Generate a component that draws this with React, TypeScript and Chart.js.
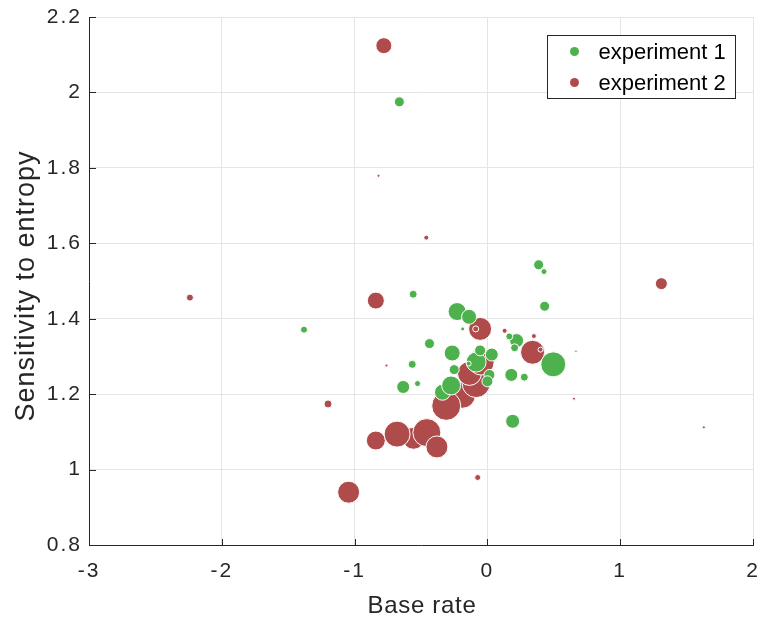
import React, { useEffect, useRef } from "react";
import { Chart, registerables } from "chart.js";

Chart.register(...registerables);

const seriesNames = ["experiment 1", "experiment 2"];
const seriesColors = ["#4db24d", "#b04b4b"];
const xTitle = "Base rate";
const yTitle = "Sensitivity to entropy";

const exp1X = [-0.663, 0.386, 0.426, 0.431, -0.559, -1.381, -0.228, -0.138, -0.186, -0.436, -0.265, -0.566, -0.634, -0.526, -0.25, -0.338, -0.273, -0.085, -0.141, -0.055, 0.033, 0.015, 0.0, 0.18, 0.278, 0.19, 0.496, 0.22, 0.165, 0.205];
const exp1Y = [1.975, 1.543, 1.525, 1.433, 1.465, 1.371, 1.419, 1.405, 1.373, 1.334, 1.309, 1.279, 1.219, 1.228, 1.265, 1.205, 1.223, 1.285, 1.281, 1.316, 1.305, 1.251, 1.234, 1.251, 1.245, 1.128, 1.279, 1.342, 1.353, 1.323];
const exp1R = [5, 5, 3, 5, 4, 3.5, 9, 7.5, 2, 5, 8, 4, 6.5, 3, 5, 8, 9.5, 10, 2.5, 5.5, 6.5, 5.5, 5.5, 6.5, 4, 7, 12.5, 7, 3.5, 4];

const exp2X = [-0.78, -0.82, -0.46, -2.24, 1.31, -0.84, -1.2, -0.76, -1.045, -0.84, -0.556, -0.68, -0.456, -0.38, -0.188, -0.31, -0.085, -0.135, -0.047, -0.055, -0.088, 0.13, 0.35, 0.34, 0.4, 0.667, 0.652, 1.63, -0.073];
const exp2Y = [2.124, 1.779, 1.615, 1.456, 1.493, 1.448, 1.174, 1.276, 0.94, 1.077, 1.083, 1.094, 1.098, 1.06, 1.197, 1.169, 1.228, 1.255, 1.285, 1.373, 1.373, 1.368, 1.354, 1.311, 1.318, 1.314, 1.188, 1.112, 0.979];
const exp2R = [8, 1.5, 2.5, 3.5, 6, 8.5, 4, 1.5, 11, 9.5, 11, 13, 14, 11, 13, 14.5, 14, 12, 13, 11.5, 3, 2.5, 2.5, 12, 2.5, 1.2, 1.5, 1.5, 3];

const xTicks = [-3, -2, -1, 0, 1, 2];
const yTicks = [0.8, 1, 1.2, 1.4, 1.6, 1.8, 2, 2.2];

const FONT = "'Liberation Sans', Arial, Helvetica, sans-serif";
const INK = "#262626";
const TICK_SPACING = "2px";

function toPoints(xs: number[], ys: number[], rs: number[]) {
  return xs.map((x, i) => ({ x, y: ys[i], r: rs[i] }));
}

const spacing = {
  id: "spacing",
  beforeUpdate(chart: any) {
    chart.ctx.letterSpacing = TICK_SPACING;
  },
  beforeDraw(chart: any) {
    chart.ctx.letterSpacing = TICK_SPACING;
  },
};

const inwardTicks = {
  id: "inwardTicks",
  afterDatasetsDraw(chart: any) {
    const { ctx, chartArea, scales } = chart;
    ctx.save();
    ctx.strokeStyle = INK;
    ctx.lineWidth = 1;
    const xs = scales.x;
    const ys = scales.y;
    ctx.beginPath();
    xTicks.forEach((v) => {
      const px = Math.round(xs.getPixelForValue(v)) + 0.5;
      ctx.moveTo(px, chartArea.bottom);
      ctx.lineTo(px, chartArea.bottom - 6);
    });
    yTicks.forEach((v) => {
      const py = Math.round(ys.getPixelForValue(v)) + 0.5;
      ctx.moveTo(chartArea.left, py);
      ctx.lineTo(chartArea.left + 7, py);
    });
    ctx.stroke();
    ctx.restore();
  },
};

const titlesAndLegend = {
  id: "titlesAndLegend",
  afterDraw(chart: any) {
    const { ctx, chartArea } = chart;
    ctx.save();
    ctx.fillStyle = INK;
    ctx.textAlign = "center";
    ctx.textBaseline = "middle";
    ctx.letterSpacing = "0.7px";
    ctx.font = `24px ${FONT}`;
    ctx.fillText(xTitle, (chartArea.left + chartArea.right) / 2 + 1, 606);
    ctx.save();
    ctx.translate(27, (chartArea.top + chartArea.bottom) / 2 + 5);
    ctx.rotate(-Math.PI / 2);
    ctx.letterSpacing = "1px";
    ctx.font = `27px ${FONT}`;
    ctx.fillText(yTitle, 0, 0);
    ctx.restore();

    const left = 547.5, top = 35.5, w = 188, h = 63;
    ctx.letterSpacing = "0px";
    ctx.fillStyle = "#ffffff";
    ctx.fillRect(left, top, w, h);
    ctx.strokeStyle = INK;
    ctx.lineWidth = 1;
    ctx.strokeRect(left, top, w, h);
    ctx.font = `22px ${FONT}`;
    ctx.textBaseline = "middle";
    ctx.textAlign = "left";
    seriesNames.forEach((name, i) => {
      const cy = top + 16 + i * 31;
      ctx.beginPath();
      ctx.fillStyle = seriesColors[i];
      ctx.arc(left + 27, cy, 4.5, 0, Math.PI * 2);
      ctx.fill();
      ctx.fillStyle = "#000000";
      ctx.fillText(name, left + 51, cy + 1);
    });
    ctx.restore();
  },
};

export default function App() {
  const ref = useRef<HTMLCanvasElement>(null);
  useEffect(() => {
    if (!ref.current) return;
    const chart = new Chart(ref.current, {
      type: "bubble",
      data: {
        datasets: [
          {
            label: seriesNames[0],
            data: toPoints(exp1X, exp1Y, exp1R),
            backgroundColor: seriesColors[0],
            borderColor: "#ffffff",
            borderWidth: 1,
          },
          {
            label: seriesNames[1],
            data: toPoints(exp2X, exp2Y, exp2R),
            backgroundColor: seriesColors[1],
            borderColor: "#ffffff",
            borderWidth: 1,
          },
        ],
      },
      options: {
        responsive: false,
        animation: false,
        layout: { autoPadding: false, padding: { top: 17, right: 8, left: 0, bottom: 0 } },
        plugins: {
          legend: { display: false },
          tooltip: { enabled: false },
        },
        scales: {
          x: {
            type: "linear",
            min: -3,
            max: 2,
            afterBuildTicks: (s: any) => {
              s.ticks = xTicks.map((v) => ({ value: v }));
            },
            afterFit: (s: any) => {
              s.height = 76;
              s.paddingLeft = 0;
              s.paddingRight = 0;
            },
            grid: { color: "#e5e5e5", drawTicks: false, tickLength: 0, lineWidth: 1 },
            border: { color: INK, width: 1 },
            ticks: {
              color: INK,
              font: { family: FONT, size: 21 },
              padding: 14,
              maxRotation: 0,
              callback: (v: any) => String(Number(v)),
            },
            title: { display: false },
          },
          y: {
            type: "linear",
            min: 0.8,
            max: 2.2,
            afterBuildTicks: (s: any) => {
              s.ticks = yTicks.map((v) => ({ value: v }));
            },
            afterFit: (s: any) => {
              s.width = 89;
              s.paddingTop = 0;
              s.paddingBottom = 0;
            },
            grid: { color: "#e5e5e5", drawTicks: false, tickLength: 0, lineWidth: 1 },
            border: { color: INK, width: 1 },
            ticks: {
              color: INK,
              font: { family: FONT, size: 21 },
              padding: 7,
              callback: (v: any) => String(Math.round(Number(v) * 10) / 10),
            },
            title: { display: false },
          },
        },
      },
      plugins: [spacing, inwardTicks, titlesAndLegend],
    });
    return () => chart.destroy();
  }, []);
  return (
    <div style={{ position: "fixed", left: 0, top: 0, width: 761, height: 621, background: "#ffffff" }}>
      <canvas ref={ref} width={761} height={621} />
    </div>
  );
}
